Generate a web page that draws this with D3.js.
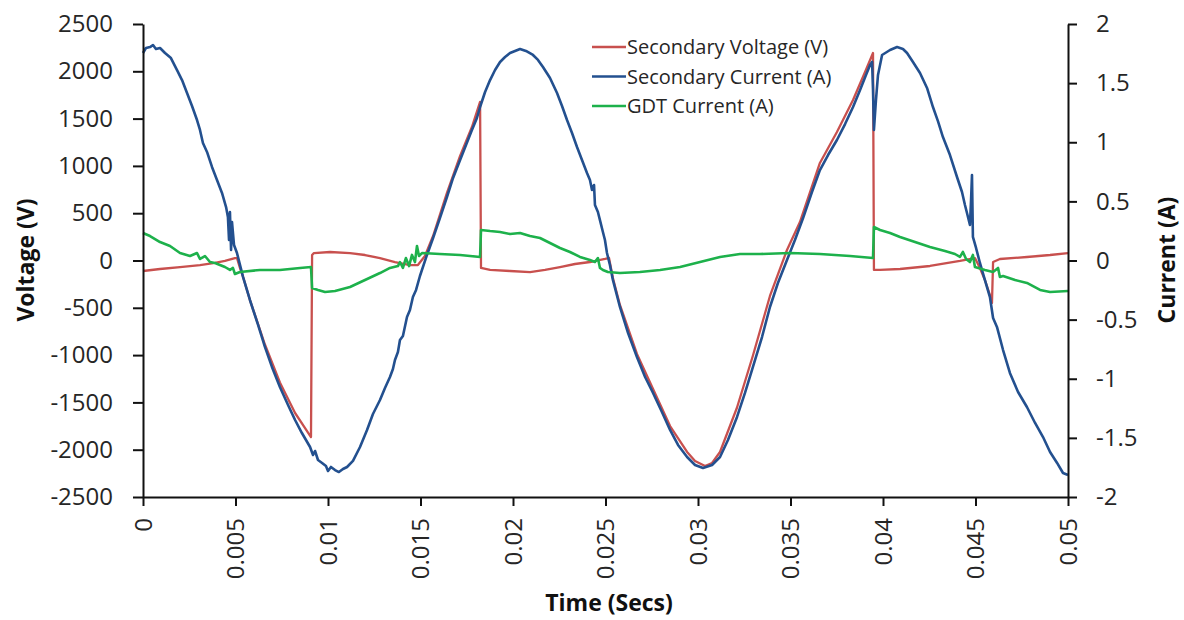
<!DOCTYPE html>
<html>
<head>
<meta charset="utf-8">
<script src="https://cdn.jsdelivr.net/npm/d3@7"></script>
<style>
  body { margin: 0; background: #fff; }
  svg { display: block; font-family: "Open Sans", sans-serif; }
</style>
</head>
<body>
<svg id="chart" width="1184" height="620"></svg>
<script>
// Tick labels
const timeTicks = [0, 0.005, 0.01, 0.015, 0.02, 0.025, 0.03, 0.035, 0.04, 0.045, 0.05];
const voltTicks = [-2500, -2000, -1500, -1000, -500, 0, 500, 1000, 1500, 2000, 2500];
const ampTicks = [-2, -1.5, -1, -0.5, 0, 0.5, 1, 1.5, 2];

const seriesNames = ["Secondary Voltage (V)", "Secondary Current (A)", "GDT Current (A)"];

// Secondary voltage, [time s, volts] (left axis)
const secVoltage = [
  [0, -111], [0.00092, -90], [0.002, -69], [0.00308, -48], [0.00389, -26], [0.00443, -5],
  [0.00497, 26], [0.00508, 26], [0.00524, -79], [0.00541, -174], [0.00578, -418],
  [0.00659, -888], [0.0074, -1290], [0.00822, -1612], [0.00876, -1771], [0.00908, -1866],
  [0.00914, 58], [0.00924, 79], [0.01011, 90], [0.01119, 79], [0.012, 58], [0.01281, 26],
  [0.01362, -16], [0.01443, -48], [0.01486, -48], [0.01524, 48], [0.01568, 259],
  [0.01643, 714], [0.01714, 1105], [0.01778, 1411], [0.01822, 1676],
  [0.01827, -79], [0.01876, -100], [0.01984, -111], [0.02092, -122], [0.02173, -100],
  [0.02254, -69], [0.02335, -37], [0.02416, -16], [0.02497, 16], [0.02519, 26],
  [0.0254, -185], [0.02578, -470], [0.0267, -988], [0.02757, -1358], [0.02849, -1750],
  [0.02941, -2024], [0.02984, -2119], [0.03038, -2172], [0.03076, -2140], [0.03119, -2024],
  [0.03211, -1554], [0.03297, -1004], [0.03389, -375], [0.03481, 111], [0.03551, 407],
  [0.03659, 1031], [0.03751, 1358], [0.03838, 1697], [0.03903, 1993], [0.03946, 2193],
  [0.03951, -100], [0.03984, -100], [0.04092, -90], [0.04254, -58], [0.04416, -5],
  [0.04497, 26], [0.04524, -79], [0.04551, -206], [0.04578, -365], [0.04589, -449],
  [0.04595, -16], [0.04632, 16], [0.04778, 37], [0.04903, 58], [0.05, 79]
];

// Secondary current, [time s, amps] (right axis)
const secCurrent = [
  [0, 1.755], [0.00016, 1.797], [0.00038, 1.805], [0.00054, 1.822], [0.0007, 1.789],
  [0.00092, 1.797], [0.00119, 1.755], [0.00151, 1.712], [0.00184, 1.61], [0.00211, 1.526],
  [0.00238, 1.416], [0.00265, 1.307], [0.00292, 1.188], [0.00308, 1.104], [0.00324, 0.994],
  [0.00346, 0.918], [0.00373, 0.791], [0.004, 0.681], [0.00427, 0.571], [0.00449, 0.452],
  [0.00459, 0.368], [0.00465, 0.173], [0.0047, 0.41], [0.00476, 0.089], [0.00481, 0.326],
  [0.00492, 0.131], [0.00508, 0.063], [0.00541, -0.14], [0.00578, -0.334], [0.00622, -0.545],
  [0.00659, -0.731], [0.00697, -0.9], [0.0074, -1.07], [0.00784, -1.222], [0.00822, -1.349],
  [0.00859, -1.459], [0.00903, -1.577], [0.00919, -1.645], [0.0093, -1.611], [0.00946, -1.687],
  [0.00968, -1.712], [0.00989, -1.738], [0.01, -1.78], [0.01016, -1.746], [0.01038, -1.772],
  [0.01059, -1.789], [0.01081, -1.763], [0.01103, -1.746], [0.01135, -1.695], [0.01173, -1.577],
  [0.01211, -1.433], [0.01243, -1.298], [0.01281, -1.18], [0.01308, -1.078], [0.01335, -0.985],
  [0.01351, -0.918], [0.01362, -0.841], [0.01378, -0.774], [0.01389, -0.672], [0.01405, -0.638],
  [0.01427, -0.478], [0.01443, -0.419], [0.01459, -0.309], [0.01476, -0.249], [0.01497, -0.131],
  [0.01535, 0.047], [0.01568, 0.19], [0.01605, 0.359], [0.01643, 0.537], [0.01676, 0.698],
  [0.01714, 0.85], [0.01746, 0.977], [0.01778, 1.104], [0.01805, 1.205], [0.01822, 1.298],
  [0.01849, 1.425], [0.01876, 1.526], [0.01903, 1.611], [0.0193, 1.679], [0.01957, 1.721],
  [0.01984, 1.755], [0.02011, 1.772], [0.02038, 1.789], [0.0207, 1.772], [0.02108, 1.738],
  [0.02135, 1.696], [0.02162, 1.636], [0.022, 1.543], [0.02238, 1.416], [0.02265, 1.307],
  [0.02292, 1.188], [0.02319, 1.078], [0.02346, 0.96], [0.02373, 0.85], [0.024, 0.74],
  [0.02416, 0.681], [0.02427, 0.596], [0.02438, 0.638], [0.02443, 0.469], [0.02459, 0.41],
  [0.0247, 0.342], [0.02486, 0.241], [0.02497, 0.173], [0.02508, 0.063], [0.02524, -0.038],
  [0.0254, -0.165], [0.02578, -0.393], [0.02622, -0.613], [0.0267, -0.816], [0.02714, -0.985],
  [0.02757, -1.12], [0.02805, -1.281], [0.02849, -1.433], [0.02892, -1.56], [0.02941, -1.662],
  [0.02984, -1.729], [0.03027, -1.755], [0.03076, -1.729], [0.03119, -1.662], [0.03162, -1.518],
  [0.03211, -1.323], [0.03254, -1.12], [0.03297, -0.9], [0.03346, -0.647], [0.03389, -0.393],
  [0.03432, -0.19], [0.03481, 0.004], [0.03524, 0.173], [0.03568, 0.359], [0.03616, 0.579],
  [0.03659, 0.765], [0.03703, 0.892], [0.03751, 1.019], [0.03795, 1.154], [0.03838, 1.298],
  [0.03876, 1.442], [0.03908, 1.569], [0.0393, 1.653], [0.03941, 1.679], [0.03946, 1.442],
  [0.03951, 1.104], [0.03962, 1.357], [0.03973, 1.569], [0.03995, 1.738], [0.04038, 1.78],
  [0.04076, 1.805], [0.04108, 1.789], [0.0413, 1.755], [0.04162, 1.679], [0.042, 1.586],
  [0.04238, 1.459], [0.0427, 1.298], [0.04297, 1.179], [0.04324, 1.044], [0.04362, 0.892],
  [0.044, 0.706], [0.04427, 0.579], [0.04443, 0.469], [0.04454, 0.402], [0.0447, 0.3],
  [0.04476, 0.512], [0.04481, 0.723], [0.04486, 0.199], [0.04503, 0.106], [0.04524, -0.021],
  [0.04551, -0.165], [0.04578, -0.309], [0.04595, -0.486], [0.04616, -0.562], [0.04649, -0.757],
  [0.04686, -0.951], [0.0473, -1.112], [0.04778, -1.239], [0.04822, -1.374], [0.04865, -1.493],
  [0.04903, -1.62], [0.04941, -1.712], [0.04973, -1.797], [0.05, -1.814]
];

// GDT current, [time s, amps] (right axis)
const gdtCurrent = [
  [0, 0.233], [0.00038, 0.207], [0.00092, 0.156], [0.00146, 0.123], [0.002, 0.063],
  [0.00254, 0.038], [0.00292, 0.063], [0.00308, 0.013], [0.00335, 0.038], [0.00362, -0.013],
  [0.00389, -0.021], [0.00416, -0.038], [0.00443, -0.055], [0.0047, -0.08], [0.00486, -0.063],
  [0.00497, -0.114], [0.00524, -0.097], [0.00632, -0.08], [0.0074, -0.08], [0.00849, -0.063],
  [0.00908, -0.055], [0.00914, -0.233], [0.00946, -0.249], [0.00984, -0.266], [0.01038, -0.258],
  [0.01119, -0.224], [0.012, -0.165], [0.01281, -0.106], [0.01335, -0.063], [0.01378, -0.047],
  [0.01389, -0.013], [0.01405, -0.063], [0.01421, 0.021], [0.01438, -0.047], [0.01454, 0.047],
  [0.0147, -0.013], [0.01481, 0.123], [0.01492, 0.038], [0.01508, 0.063], [0.01605, 0.055],
  [0.01714, 0.047], [0.01822, 0.03], [0.01827, 0.258], [0.01876, 0.249], [0.0193, 0.241],
  [0.01984, 0.224], [0.02038, 0.233], [0.02092, 0.207], [0.02146, 0.19], [0.022, 0.148],
  [0.02254, 0.106], [0.02308, 0.072], [0.02362, 0.03], [0.02416, 0.004], [0.02443, -0.013],
  [0.02459, 0.021], [0.0247, -0.063], [0.02486, -0.08], [0.02513, -0.097], [0.02578, -0.106],
  [0.02686, -0.097], [0.02795, -0.08], [0.02903, -0.055], [0.03011, -0.013], [0.03119, 0.03],
  [0.03227, 0.055], [0.03335, 0.055], [0.03497, 0.063], [0.03659, 0.055], [0.03822, 0.038],
  [0.03946, 0.021], [0.03951, 0.283], [0.03984, 0.258], [0.04038, 0.233], [0.04092, 0.199],
  [0.04173, 0.156], [0.04254, 0.114], [0.04335, 0.08], [0.04389, 0.055], [0.04416, 0.03],
  [0.04432, 0.072], [0.04449, 0.013], [0.0447, -0.013], [0.04486, 0.047], [0.04497, -0.055],
  [0.04551, -0.08], [0.04595, -0.097], [0.04622, -0.063], [0.04632, -0.14], [0.04649, -0.131],
  [0.04714, -0.165], [0.04778, -0.19], [0.04849, -0.249], [0.04903, -0.266], [0.05, -0.258]
];

const colors = ["#c8504e", "#23508f", "#1db14b"];

window.onload = function() {
    DrawChart();
}

function DrawChart() {
    let svg = d3.select('#chart');

    // plot box
    let left = 143, right = 1068, top = 24, bottom = 497;

    let x = d3.scaleLinear().domain([0, 0.05]).range([left, right]);
    let yV = d3.scaleLinear().domain([-2500, 2500]).range([bottom, top]);
    let yI = d3.scaleLinear().domain([-2, 2]).range([bottom, top]);

    // Lines - voltage on left axis, currents on right axis
    let voltLine = d3.line().x(d => x(d[0])).y(d => yV(d[1]));
    let ampLine = d3.line().x(d => x(d[0])).y(d => yI(d[1]));

    svg.append('path')
        .datum(secVoltage)
        .attr('d', voltLine)
        .attr('fill', 'none')
        .attr('stroke', colors[0])
        .attr('stroke-width', 2.3)
        .attr('stroke-linejoin', 'round');
    svg.append('path')
        .datum(secCurrent)
        .attr('d', ampLine)
        .attr('fill', 'none')
        .attr('stroke', colors[1])
        .attr('stroke-width', 2.6)
        .attr('stroke-linejoin', 'round');
    svg.append('path')
        .datum(gdtCurrent)
        .attr('d', ampLine)
        .attr('fill', 'none')
        .attr('stroke', colors[2])
        .attr('stroke-width', 2.6)
        .attr('stroke-linejoin', 'round');

    // Axes
    let xAxis = svg.append('g')
        .attr('transform', `translate(0,${bottom})`)
        .call(d3.axisBottom(x).tickValues(timeTicks).tickFormat(d => String(d)).tickSize(9).tickSizeOuter(0));
    xAxis.selectAll('text')
        .attr('transform', 'rotate(-90)')
        .attr('text-anchor', 'end')
        .attr('x', -21)
        .attr('y', 0)
        .attr('dy', '0.35em');

    let yAxisL = svg.append('g')
        .attr('transform', `translate(${left},0)`)
        .call(d3.axisLeft(yV).tickValues(voltTicks).tickFormat(d => String(d)).tickSize(10).tickSizeOuter(0));
    yAxisL.selectAll('text').attr('x', -30);

    let yAxisR = svg.append('g')
        .attr('transform', `translate(${right},0)`)
        .call(d3.axisRight(yI).tickValues(ampTicks).tickFormat(d => String(d)).tickSize(9).tickSizeOuter(0));
    yAxisR.selectAll('text').attr('x', 28);

    svg.selectAll('.domain, .tick line')
        .attr('stroke', '#111')
        .attr('stroke-width', 2);
    svg.selectAll('.tick text')
        .attr('font-size', 24)
        .attr('font-family', '"Open Sans", sans-serif')
        .attr('fill', '#262626');

    // Axis titles
    svg.append('text')
        .attr('x', 609)
        .attr('y', 611)
        .attr('text-anchor', 'middle')
        .attr('font-size', 23)
        .attr('font-weight', 'bold')
        .attr('fill', '#111')
        .text('Time (Secs)');
    svg.append('text')
        .attr('transform', 'translate(34,260) rotate(-90)')
        .attr('text-anchor', 'middle')
        .attr('font-size', 23)
        .attr('font-weight', 'bold')
        .attr('fill', '#111')
        .text('Voltage (V)');
    svg.append('text')
        .attr('transform', 'translate(1175,260) rotate(-90)')
        .attr('text-anchor', 'middle')
        .attr('font-size', 23)
        .attr('font-weight', 'bold')
        .attr('fill', '#111')
        .text('Current (A)');

    // Legend
    let legend = svg.append('g');
    let rowY = [47, 76.5, 106];
    seriesNames.forEach((name, i) => {
        legend.append('line')
            .attr('x1', 592)
            .attr('x2', 626)
            .attr('y1', rowY[i])
            .attr('y2', rowY[i])
            .attr('stroke', colors[i])
            .attr('stroke-width', 2.6);
        legend.append('text')
            .attr('x', 627)
            .attr('y', rowY[i])
            .attr('dy', '0.35em')
            .attr('font-size', 20)
            .attr('fill', '#262626')
            .text(name);
    });
}
</script>
</body>
</html>
